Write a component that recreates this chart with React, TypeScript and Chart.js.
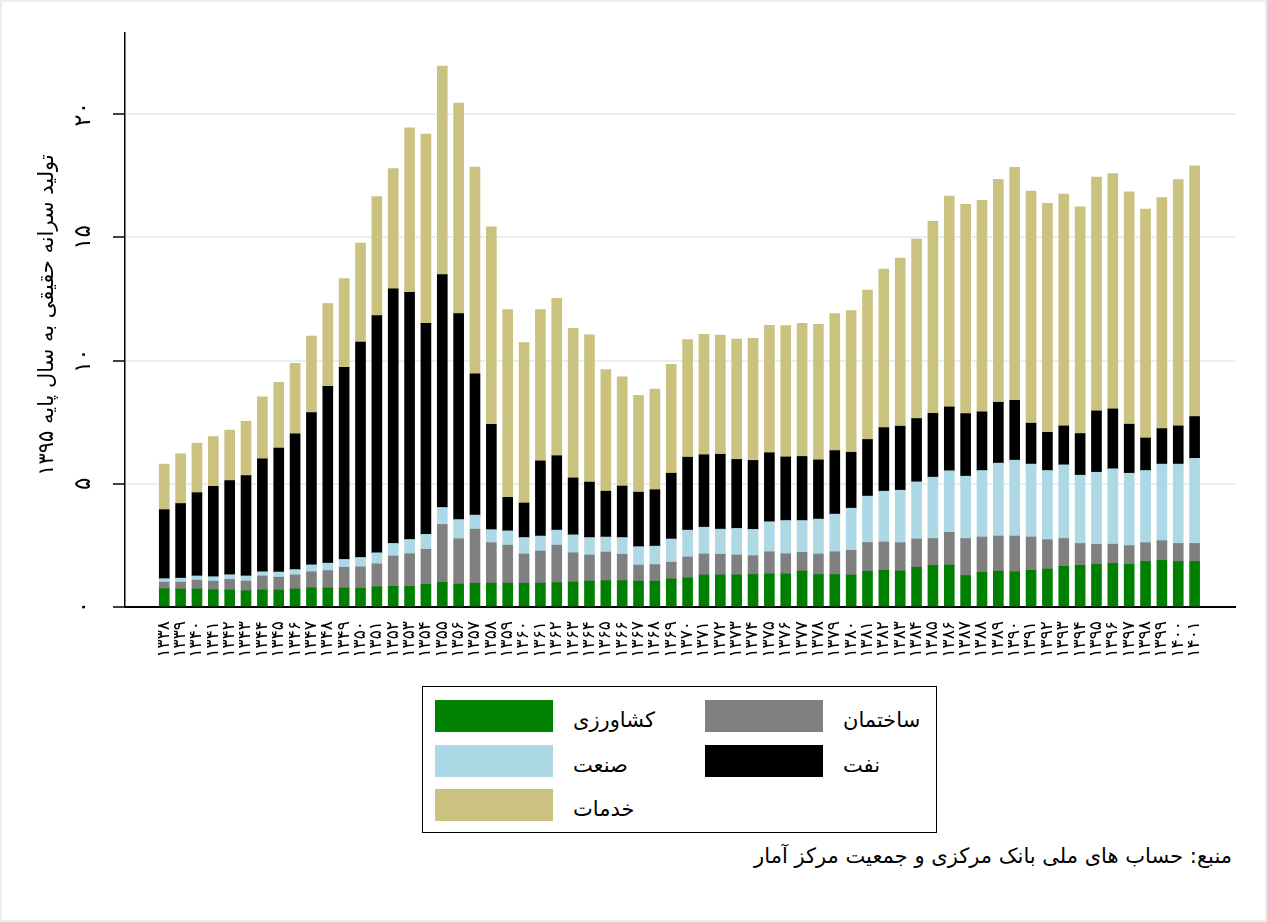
import { useEffect, useRef } from 'react';
import Chart from 'chart.js/auto';

const years = [
  1338, 1339, 1340, 1341, 1342, 1343, 1344, 1345, 1346, 1347,
  1348, 1349, 1350, 1351, 1352, 1353, 1354, 1355, 1356, 1357,
  1358, 1359, 1360, 1361, 1362, 1363, 1364, 1365, 1366, 1367,
  1368, 1369, 1370, 1371, 1372, 1373, 1374, 1375, 1376, 1377,
  1378, 1379, 1380, 1381, 1382, 1383, 1384, 1385, 1386, 1387,
  1388, 1389, 1390, 1391, 1392, 1393, 1394, 1395, 1396, 1397,
  1398, 1399, 1400, 1401,
];

// per-capita output by sector (stack order bottom to top)
const agriculture = [
  0.74, 0.73, 0.73, 0.7, 0.69, 0.66, 0.69, 0.69, 0.73, 0.78,
  0.77, 0.77, 0.76, 0.82, 0.84, 0.84, 0.92, 1.0, 0.93, 0.96,
  0.97, 0.97, 0.96, 0.97, 0.99, 1.01, 1.05, 1.07, 1.07, 1.05,
  1.05, 1.14, 1.18, 1.3, 1.3, 1.3, 1.32, 1.34, 1.34, 1.46,
  1.32, 1.32, 1.3, 1.45, 1.49, 1.46, 1.61, 1.69, 1.7, 1.28,
  1.41, 1.45, 1.43, 1.49, 1.54, 1.65, 1.69, 1.73, 1.77, 1.73,
  1.85, 1.89, 1.85, 1.85,
];
const construction = [
  0.27, 0.28, 0.36, 0.35, 0.43, 0.39, 0.57, 0.52, 0.57, 0.65,
  0.71, 0.84, 0.87, 0.93, 1.23, 1.32, 1.42, 2.35, 1.84, 2.2,
  1.64, 1.54, 1.19, 1.3, 1.52, 1.19, 1.06, 1.16, 1.07, 0.65,
  0.67, 0.68, 0.85, 0.85, 0.84, 0.81, 0.76, 0.9, 0.82, 0.76,
  0.83, 0.92, 1.0, 1.17, 1.15, 1.15, 1.15, 1.09, 1.33, 1.5,
  1.43, 1.43, 1.45, 1.35, 1.19, 1.13, 0.89, 0.81, 0.78, 0.76,
  0.76, 0.8, 0.73, 0.73,
];
const industry = [
  0.14, 0.16, 0.17, 0.18, 0.19, 0.21, 0.17, 0.21, 0.22, 0.28,
  0.3, 0.32, 0.38, 0.45, 0.51, 0.58, 0.61, 0.69, 0.78, 0.57,
  0.53, 0.58, 0.67, 0.61, 0.61, 0.73, 0.71, 0.61, 0.68, 0.75,
  0.75, 0.94, 1.09, 1.09, 1.02, 1.08, 1.07, 1.22, 1.35, 1.29,
  1.42, 1.53, 1.71, 1.88, 2.06, 2.13, 2.32, 2.49, 2.5, 2.53,
  2.7, 2.96, 3.08, 2.96, 2.81, 2.99, 2.77, 2.93, 3.06, 2.94,
  2.93, 3.11, 3.22, 3.45,
];
const oil = [
  2.8, 3.03, 3.38, 3.67, 3.82, 4.07, 4.58, 5.03, 5.51, 6.18,
  7.18, 7.8, 8.74, 9.63, 10.34, 10.03, 8.56, 9.45, 8.36, 5.73,
  4.28, 1.36, 1.4, 3.05, 3.02, 2.31, 2.25, 1.86, 2.09, 2.21,
  2.29, 2.67, 2.96, 2.94, 3.04, 2.8, 2.8, 2.8, 2.58, 2.6,
  2.4, 2.58, 2.27, 2.3, 2.58, 2.6, 2.57, 2.59, 2.59, 2.54,
  2.38, 2.47, 2.43, 1.66, 1.55, 1.58, 1.69, 2.49, 2.43, 1.99,
  1.32, 1.44, 1.55, 1.7,
];
const services = [
  1.85, 2.02, 2.01, 2.02, 2.05, 2.21, 2.52, 2.67, 2.86, 3.11,
  3.36, 3.6, 4.02, 4.83, 4.88, 6.68, 7.69, 8.47, 8.55, 8.4,
  8.01, 7.62, 6.51, 6.14, 6.39, 6.07, 5.98, 4.94, 4.43, 3.93,
  4.09, 4.42, 4.78, 4.89, 4.84, 4.89, 4.96, 5.17, 5.33, 5.4,
  5.5, 5.56, 5.75, 6.06, 6.44, 6.82, 7.28, 7.8, 8.56, 8.5,
  8.59, 9.05, 9.46, 9.42, 9.3, 9.41, 9.2, 9.49, 9.55, 9.43,
  9.29, 9.38, 10.0, 10.18,
];

const yTicks = [0, 5, 10, 15, 20];
const yTitle = 'تولید سرانه حقیقی به سال پایه ۱۳۹۵';
const source = 'منبع: حساب های ملی بانک مرکزی و جمعیت مرکز آمار';

const series = [
  { label: 'کشاورزی', data: agriculture, color: '#008000' },
  { label: 'ساختمان', data: construction, color: '#808080' },
  { label: 'صنعت', data: industry, color: '#add8e6' },
  { label: 'نفت', data: oil, color: '#000000' },
  { label: 'خدمات', data: services, color: '#cbc27f' },
];

const FONT = '"DejaVu Sans", sans-serif';
const toFa = (n: number) => String(n).replace(/\d/g, (d) => '۰۱۲۳۴۵۶۷۸۹'[+d]);

const yLabelsPlugin = {
  id: 'yLabels',
  afterDraw(chart: any) {
    const { ctx, chartArea } = chart;
    const y = chart.scales.y;
    ctx.save();
    ctx.fillStyle = '#000';
    ctx.textAlign = 'center';
    ctx.textBaseline = 'middle';
    ctx.font = `23px ${FONT}`;
    yTicks.forEach((v) => {
      ctx.save();
      ctx.translate(84, y.getPixelForValue(v));
      ctx.rotate(-Math.PI / 2);
      ctx.fillText(toFa(v), 0, 0);
      ctx.restore();
    });
    ctx.translate(48, (chartArea.top + chartArea.bottom) / 2 - 5);
    ctx.rotate(-Math.PI / 2);
    ctx.direction = 'rtl';
    ctx.font = `21px ${FONT}`;
    ctx.fillText(yTitle, 0, 0);
    ctx.restore();
  },
};

// legend order: agriculture, construction, industry, oil, services
const legendPos = [
  { left: 435, top: 700 },
  { left: 705, top: 700 },
  { left: 435, top: 745 },
  { left: 705, top: 745 },
  { left: 435, top: 789 },
];

export default function App() {
  const canvasRef = useRef<HTMLCanvasElement | null>(null);

  useEffect(() => {
    if (!canvasRef.current) return;
    const chart = new Chart(canvasRef.current, {
      type: 'bar',
      data: {
        labels: years,
        datasets: series.map((s) => ({
          label: s.label,
          data: s.data,
          backgroundColor: s.color,
          borderWidth: 0,
          barThickness: 10,
        })),
      },
      options: {
        responsive: false,
        animation: false,
        layout: { padding: { top: 33, right: 32, left: 0, bottom: 0 } },
        plugins: { legend: { display: false }, tooltip: { enabled: false } },
        scales: {
          x: {
            type: 'linear',
            stacked: true,
            offset: false,
            bounds: 'data',
            min: 1335.6,
            max: 1403.47,
            afterBuildTicks: (axis: any) => {
              axis.ticks = years.map((v) => ({ value: v }));
            },
            afterFit: (axis: any) => {
              axis.height = 73;
            },
            grid: { display: true, drawOnChartArea: false, drawTicks: false },
            border: { display: true, color: '#000', width: 2 },
            ticks: {
              autoSkip: false,
              minRotation: 90,
              maxRotation: 90,
              padding: 14,
              color: '#000',
              font: { family: FONT, size: 17 },
              callback: (v: any) => toFa(Number(v)),
            },
          },
          y: {
            stacked: true,
            bounds: 'data',
            min: 0,
            max: 23.3,
            afterBuildTicks: (axis: any) => {
              axis.ticks = yTicks.map((v) => ({ value: v }));
            },
            afterFit: (axis: any) => {
              axis.width = 125;
            },
            grid: {
              color: (c: any) => (c.tick && c.tick.value === 0 ? 'rgba(0,0,0,0)' : '#e8f0f2'),
              lineWidth: 2,
              tickColor: '#000',
              tickLength: 12,
              tickWidth: 1.5,
            },
            border: { display: true, color: '#000', width: 1.5 },
            ticks: { display: false },
          },
        },
      },
      plugins: [yLabelsPlugin],
    });
    return () => {
      chart.destroy();
    };
  }, []);

  return (
    <div
      style={{
        position: 'absolute',
        left: 0,
        top: 0,
        width: 1267,
        height: 922,
        background: '#fff',
        boxSizing: 'border-box',
        border: '2px solid #e8f0f2',
        fontFamily: FONT,
      }}
    >
      <canvas
        ref={canvasRef}
        width={1267}
        height={680}
        style={{ position: 'absolute', left: -2, top: -2 }}
      />
      <div
        style={{
          position: 'absolute',
          left: 420,
          top: 684,
          width: 515,
          height: 147,
          boxSizing: 'border-box',
          border: '1.5px solid #000',
        }}
      />
      {series.map((s, i) => (
        <div key={s.label}>
          <div
            style={{
              position: 'absolute',
              left: legendPos[i].left - 2,
              top: legendPos[i].top - 2,
              width: 118,
              height: 32,
              background: s.color,
            }}
          />
          <div
            dir="rtl"
            style={{
              position: 'absolute',
              left: legendPos[i].left + 136,
              top: legendPos[i].top + 2,
              height: 32,
              lineHeight: '32px',
              fontSize: 21,
              color: '#000',
              whiteSpace: 'nowrap',
            }}
          >
            {s.label}
          </div>
        </div>
      ))}
      <div
        dir="rtl"
        style={{
          position: 'absolute',
          right: 33,
          top: 842,
          fontSize: 21,
          color: '#000',
          whiteSpace: 'nowrap',
        }}
      >
        {source}
      </div>
    </div>
  );
}
